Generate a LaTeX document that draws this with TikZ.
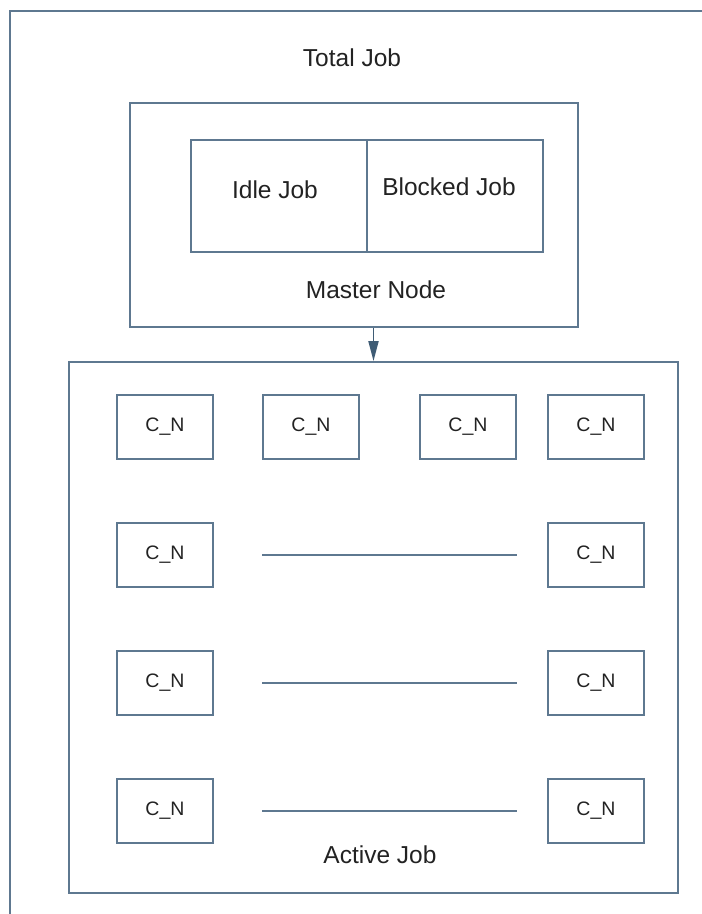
\documentclass[tikz,border=0pt]{standalone}
\usepackage{fontspec}
\setmainfont{Liberation Sans}
\usetikzlibrary{arrows.meta}
\definecolor{frame}{HTML}{5E7890}
\definecolor{arrowc}{HTML}{3F5C75}
\definecolor{txt}{HTML}{222222}
\tikzset{
  boxline/.style={draw=frame, line width=1.8pt},
  cnbox/.style={boxline, minimum width=96pt, minimum height=64pt, inner sep=0pt,
    font=\fontsize{19.5}{22}\selectfont, text=txt},
  lbl/.style={font=\fontsize{24.5}{28}\selectfont, text=txt, inner sep=0pt},
  region/.style={boxline, inner sep=0pt},
  gapline/.style={draw=frame, line width=1.4pt},
}
\begin{document}
\begin{tikzpicture}[x=1pt,y=-1pt]
\useasboundingbox (0,0) rectangle (702,914);
\clip (0,0) rectangle (702,914);

% outer frame (runs past the right and bottom edges)
\draw[boxline] (10,930) -- (10,11) -- (720,11);
\node[lbl] (total) at (352,58) {Total Job};

% master node with its two queues
\node[region, minimum width=448pt, minimum height=224pt] (master) at (354,215) {};
\node[region, minimum width=176pt, minimum height=112pt] (idle) at (279,196) {};
\node[region, minimum width=176pt, minimum height=112pt] (blocked) at (455,196) {};
\node[lbl] (idlet) at (275,190) {Idle Job};
\node[lbl] (blockedt) at (449,187) {Blocked Job};
\node[lbl] (mastert) at (376,290) {Master Node};

% active region
\node[region, minimum width=609pt, minimum height=531pt] (active) at (373.5,627.5) {};
\node[lbl] (activet) at (380,855) {Active Job};

% arrow from master node to active region
\coordinate (arrtop) at (active.north |- master.south);
\draw[draw=arrowc, line width=1.8pt, -{Triangle[length=20pt,width=10pt]}] (arrtop) -- (active.north);

% compute nodes
\node[cnbox] (c11) at (165,427) {C\_N};
\node[cnbox] (c12) at (311,427) {C\_N};
\node[cnbox] (c13) at (468,427) {C\_N};
\node[cnbox] (c14) at (596,427) {C\_N};
\node[cnbox] (c21) at (165,555) {C\_N};
\node[cnbox] (c24) at (596,555) {C\_N};
\node[cnbox] (c31) at (165,683) {C\_N};
\node[cnbox] (c34) at (596,683) {C\_N};
\node[cnbox] (c41) at (165,811) {C\_N};
\node[cnbox] (c44) at (596,811) {C\_N};

% rows continue between the outer columns
\foreach \r/\y in {2/555,3/683,4/811}{
  \coordinate (l\r) at (262,\y);
  \coordinate (r\r) at (517,\y);
  \draw[gapline] (l\r) -- (r\r);
}
\end{tikzpicture}
\end{document}
